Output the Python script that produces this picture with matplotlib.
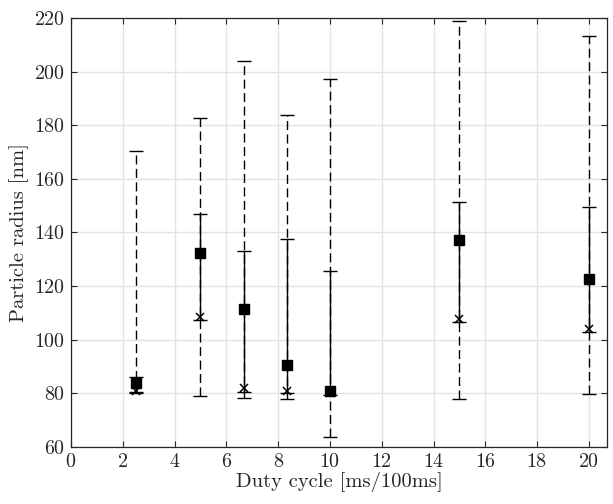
import matplotlib
matplotlib.use("Agg")
import matplotlib.pyplot as plt
import numpy as np

plt.rcParams['font.family'] = 'serif'
plt.rcParams['font.serif'] = ['cmr10', 'DejaVu Serif']
plt.rcParams['mathtext.fontset'] = 'cm'
plt.rcParams['axes.formatter.use_mathtext'] = True

duty = [2.5, 5.0, 6.67, 8.33, 10.0, 15.0, 20.0]
mean_r = [83.8, 132.5, 111.5, 90.5, 80.8, 137.2, 122.8]
median_r = [81.0, 108.4, 81.9, 81.0, 80.0, 107.6, 103.9]
solid_lo = [80.5, 107.5, 80.5, 80.0, 79.5, 106.8, 103.0]
solid_hi = [86.0, 146.8, 133.2, 137.5, 125.6, 151.5, 149.6]
min_r = [80.0, 79.2, 78.1, 78.0, 63.8, 78.0, 79.8]
max_r = [170.5, 182.8, 203.8, 183.8, 197.2, 219.0, 213.4]

xticks = list(range(0, 21, 2))
yticks = list(range(60, 221, 20))

fig = plt.figure(figsize=(6.13, 5.04), dpi=100)
ax = fig.add_axes([71/613, 1-447/504, (607-71)/613, (447-18)/504])

x = np.array(duty)
m = np.array(mean_r)
lo_d, hi_d = np.array(min_r), np.array(max_r)
lo_s, hi_s = np.array(solid_lo), np.array(solid_hi)

eb1 = ax.errorbar(x, m, yerr=[m - lo_d, hi_d - m], fmt='none', ecolor='black',
                  elinewidth=1.0, capsize=5, capthick=1.0, zorder=3)
eb1.lines[2][0].set_linestyle((0, (6.5, 3.2)))
eb2 = ax.errorbar(x, m, yerr=[m - lo_s, hi_s - m], fmt='none', ecolor='black',
                  elinewidth=1.0, capsize=5, capthick=1.0, zorder=4)
ax.plot(x, m, linestyle='none', marker='s', markersize=7.5, color='black', zorder=5)
ax.plot(x, median_r, linestyle='none', marker='x', markersize=5.5,
        markeredgewidth=1.1, color='black', zorder=5)

ax.set_xlim(0, 20.7)
ax.set_ylim(60, 220)
ax.set_xticks(xticks)
ax.set_yticks(yticks)
ax.grid(True, color='#e3e3e3', linewidth=1.0)
ax.set_axisbelow(True)
ax.tick_params(direction='in', top=True, right=True, length=4, width=0.8,
               colors='#262626', labelsize=14.4, labelcolor='#262626', pad=4)
for s in ax.spines.values():
    s.set_color('#262626')
    s.set_linewidth(0.9)
ax.set_xlabel('Duty cycle [ms/100ms]', fontsize=14.8, color='#262626', labelpad=1)
ax.set_ylabel('Particle radius [nm]', fontsize=14.8, color='#262626', labelpad=4)

fig.savefig('out.png', dpi=100)
